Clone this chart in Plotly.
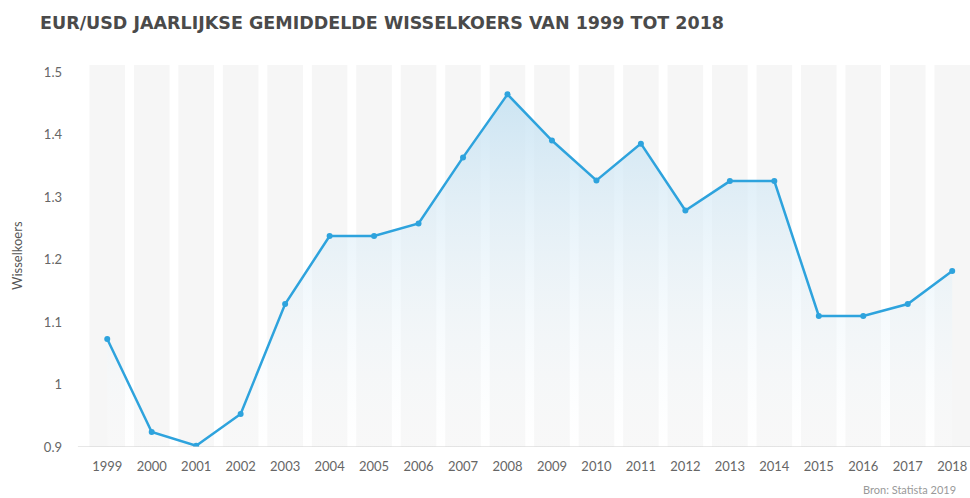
import plotly.graph_objects as go

years = list(range(1999, 2019))
rates = [1.073, 0.924, 0.902, 0.953, 1.129, 1.238, 1.238, 1.258, 1.364, 1.465,
         1.391, 1.327, 1.386, 1.279, 1.326, 1.326, 1.110, 1.110, 1.129, 1.182]
y_ticks = [0.9, 1.0, 1.1, 1.2, 1.3, 1.4, 1.5]
y_tick_labels = ["0.9", "1", "1.1", "1.2", "1.3", "1.4", "1.5"]

title_text = "EUR/USD JAARLIJKSE GEMIDDELDE WISSELKOERS VAN 1999 TOT 2018"
source_text = "Bron: Statista 2019"
y_title = "Wisselkoers"

blue = "#2ea3dd"

fig = go.Figure()

fig.add_trace(go.Scatter(
    x=years, y=rates, mode="lines+markers",
    line=dict(color=blue, width=2.5),
    marker=dict(color=blue, size=6),
    fill="tozeroy",
    fillgradient=dict(type="vertical", start=0.9, stop=1.47,
                      colorscale=[[0, "rgba(255,255,255,0.2)"], [1, "rgba(196,225,242,0.85)"]]),
    hoverinfo="x+y", showlegend=False,
))

shapes = []
for yr in years:
    shapes.append(dict(type="rect", xref="x", yref="y", x0=yr - 0.4, x1=yr + 0.4,
                       y0=0.9, y1=1.512, fillcolor="#f6f6f6", line=dict(width=0),
                       layer="below"))
shapes.append(dict(type="line", xref="paper", yref="y", x0=-0.008, x1=1, y0=0.9, y1=0.9,
                   line=dict(color="#d0d0d0", width=1.2)))

fig.update_layout(
    width=970, height=498,
    margin=dict(l=85, r=0, t=65, b=51, autoexpand=False),
    paper_bgcolor="white", plot_bgcolor="white",
    font=dict(family="Lato, Open Sans, sans-serif", color="#666"),
    shapes=shapes,
    title=dict(text=title_text, x=40 / 970, xanchor="left", y=1 - 23 / 498, yanchor="middle",
               font=dict(family="DejaVu Sans", size=17.5, color="#4a4a4a", weight=600)),
    xaxis=dict(range=[1998.5, 2018.4], tickmode="array", tickvals=years,
               ticktext=[str(y) for y in years], showgrid=False, zeroline=False,
               showline=False, ticks="", tickfont=dict(size=13, color="#666"),
               ticklabelstandoff=10, automargin=False),
    yaxis=dict(range=[0.9, 1.512], tickmode="array", tickvals=y_ticks, ticktext=y_tick_labels,
               showgrid=False, zeroline=False, showline=False, ticks="",
               tickfont=dict(size=13, color="#666"), ticklabelstandoff=22, automargin=False),
    annotations=[
        dict(text=source_text, xref="paper", yref="paper", x=1 - 12 / 885, y=-51 / 382,
             xanchor="right", yanchor="bottom", showarrow=False,
             font=dict(size=11, color="#999")),
        dict(text=y_title, xref="paper", yref="paper", x=-68 / 885, y=0.5,
             xanchor="center", yanchor="middle", textangle=-90, showarrow=False,
             font=dict(size=13, color="#555")),
    ],
)

fig.write_html("out.html", config={"displayModeBar": False})

with open("out.html", "r", encoding="utf-8") as f:
    html = f.read()
html = html.replace("<head>", "<head><style>html,body{margin:0;padding:0;overflow:hidden;}</style>", 1)
with open("out.html", "w", encoding="utf-8") as f:
    f.write(html)
